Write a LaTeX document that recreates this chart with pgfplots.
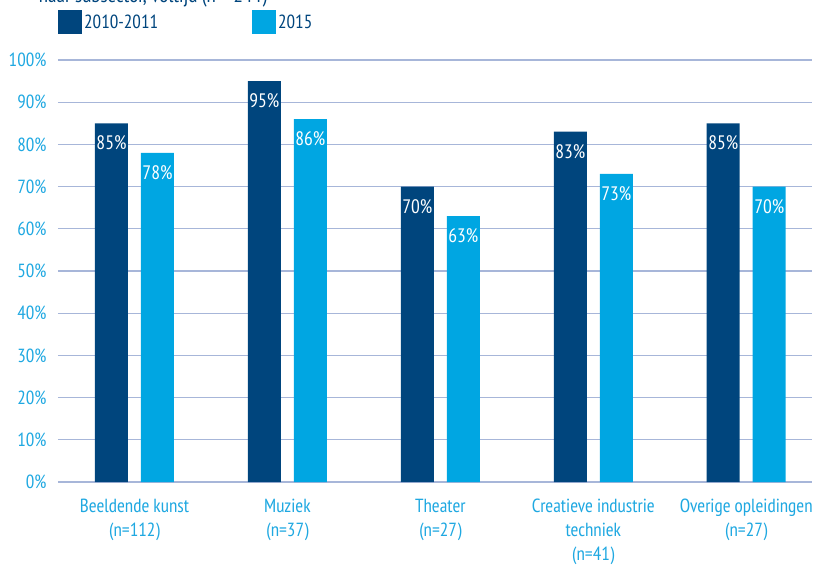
\documentclass[border=0pt]{standalone}
\usepackage{pgfplots}
\pgfplotsset{compat=1.18}
\usepackage{fontspec}
\setmainfont{PT Sans Narrow}
\definecolor{darkb}{HTML}{00457D}
\definecolor{lightb}{HTML}{00A6E2}
\definecolor{ticklab}{HTML}{1FA8E1}
\definecolor{gridc}{HTML}{A7B6D9}
\begin{document}
\begin{tikzpicture}[x=1pt,y=1pt]
\useasboundingbox (0,0) rectangle (814,568);
\node[anchor=base east, text=darkb, font=\fontsize{21}{24}\selectfont, inner sep=0pt] at (267,565.5) {naar subsector, voltijd (n = 244)};
\begin{axis}[
  at={(58pt,86pt)}, anchor=south west, scale only axis,
  width=754pt, height=422pt,
  xmin=-0.5, xmax=4.43, ymin=0, ymax=100,
  ybar=13pt, bar width=33pt,
  xtick={0,1,2,3,4},
  xticklabels={{Beeldende kunst\\(n=112)},{Muziek\\(n=37)},{Theater\\(n=27)},{Creatieve industrie\\techniek\\(n=41)},{Overige opleidingen\\(n=27)}},
  xticklabel style={align=center, text=ticklab, font=\fontsize{19}{24}\selectfont, yshift=-9pt},
  ytick={0,10,...,100},
  yticklabel={\pgfmathprintnumber{\tick}\%},
  yticklabel style={text=ticklab, font=\fontsize{19}{22}\selectfont, xshift=-8pt},
  /pgf/number format/assume math mode=true,
  ymajorgrids, grid style={gridc, line width=1.2pt},
  axis line style={draw=none}, major tick style={draw=none},
  nodes near coords={\pgfmathprintnumber{\pgfplotspointmeta}\%},
  every node near coord/.append style={anchor=north, text=white, font=\fontsize{19.5}{22}\selectfont, yshift=-9pt},
  legend columns=2,
  legend style={at={(0,1.1185)}, anchor=north west, draw=none, fill=none, inner sep=0pt,
    text=darkb, font=\fontsize{19}{22}\selectfont,
    /tikz/every even column/.append style={column sep=92pt}},
  legend image code/.code={\fill[#1] (0pt,-12pt) rectangle (24pt,12pt);},
]
\addplot[fill=darkb, draw=none] coordinates {(0,85) (1,95) (2,70) (3,83) (4,85)};
\addplot[fill=lightb, draw=none] coordinates {(0,78) (1,86) (2,63) (3,73) (4,70)};
\legend{2010-2011,2015}
\end{axis}
\end{tikzpicture}
\end{document}
